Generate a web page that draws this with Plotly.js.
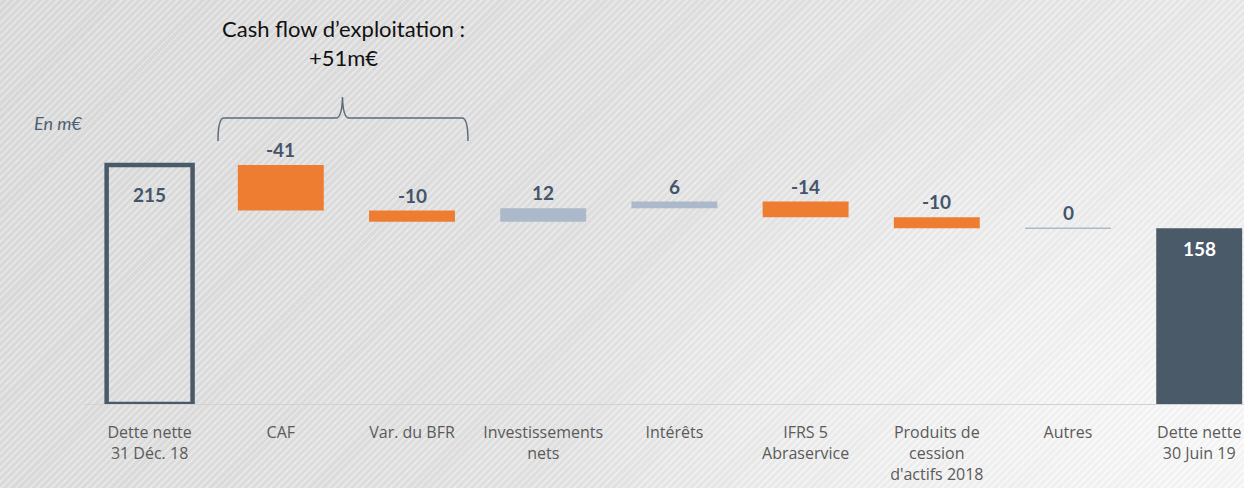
<!DOCTYPE html>
<html><head><meta charset="utf-8">
<script src="https://cdn.plot.ly/plotly-3.0.1.min.js"></script>
<style>
html,body{margin:0;padding:0;width:1244px;height:488px;overflow:hidden;}
body{
 background:
  repeating-linear-gradient(135deg, rgba(255,255,255,0.22) 0px, rgba(255,255,255,0.22) 2px, rgba(0,0,0,0.025) 2px, rgba(0,0,0,0.025) 5px),
  radial-gradient(ellipse 55% 75% at 100% 90%, #fafafa 0%, #f3f3f3 45%, rgba(232,232,232,0) 100%),
  linear-gradient(120deg, #dcdcdc 0%, #e2e2e2 45%, #e8e8e8 70%, #eeeeee 100%);
}
#chart{width:1244px;height:488px;}
</style></head><body><div id="chart"></div>
<script>
const categories = ['Dette nette<br>31 Déc. 18','CAF','Var. du BFR','Investissements<br>nets','Intérêts','IFRS 5<br>Abraservice','Produits de<br>cession<br>d\'actifs 2018','Autres','Dette nette<br>30 Juin 19'];
const values = [215, -41, -10, 12, 6, -14, -10, 0, 158];
const measures = ['total','relative','relative','relative','relative','relative','relative','relative','total'];
const valueLabels = ['215','-41','-10','12','6','-14','-10','0','158'];
const bracketedSteps = [1, 2];

const SLATE = '#4a5a69', LABEL = '#44546a', ORANGE = '#ee7d32', BLUEGREY = '#acb9ca';

// waterfall geometry from the values
let level = 0;
const bases = [], heights = [], colors = [], lineW = [], lineC = [];
values.forEach((v, i) => {
  if (measures[i] === 'total') {
    bases.push(0); heights.push(v); level = v;
    colors.push(i === 0 ? 'rgba(0,0,0,0)' : SLATE);
    lineW.push(i === 0 ? 4.5 : 0); lineC.push(SLATE);
  } else {
    const start = level, end = level + v;
    if (v === 0) { bases.push(level - 0.7); heights.push(1.4); }
    else { bases.push(Math.min(start, end)); heights.push(Math.abs(v)); }
    level = end;
    colors.push(v < 0 ? ORANGE : BLUEGREY);
    lineW.push(0); lineC.push('rgba(0,0,0,0)');
  }
});

const W = 1244, H = 488, L = 84, R = 0, T = 126, B = 84;
const pw = W - L - R, ph = H - T - B;
const px = x => (x - L) / pw, py = y => (H - B - y) / ph;

const annotations = [];
values.forEach((v, i) => {
  const isTotal = measures[i] === 'total';
  annotations.push({
    x: categories[i], y: isTotal ? v : bases[i] + heights[i], xref: 'x', yref: 'y',
    text: valueLabels[i], showarrow: false,
    yanchor: isTotal ? 'top' : 'bottom',
    yshift: isTotal ? (i === 0 ? -16 : -7) : 2,
    font: {family: 'Lato, sans-serif', size: 19, color: (isTotal && i > 0) ? '#ffffff' : LABEL, weight: 'bold'}
  });
});
const cashFlow = -bracketedSteps.reduce((s, i) => s + values[i], 0);
annotations.push({
  xref: 'paper', yref: 'paper', x: px(343), y: py(43), xanchor: 'center', yanchor: 'middle',
  text: 'Cash flow d’exploitation :<br>+' + cashFlow + 'm€', showarrow: false,
  font: {family: 'Lato, sans-serif', size: 22, color: '#111111'}
});
annotations.push({
  xref: 'paper', yref: 'paper', x: px(32), y: py(123), xanchor: 'left', yanchor: 'middle',
  text: '<i>En m€</i>', showarrow: false,
  font: {family: 'Lato, sans-serif', size: 18, color: '#4f6072'}
});

const P = (x, y) => px(x).toFixed(5) + ',' + py(y).toFixed(5);
const bracePath = 'M' + P(218,141) + ' Q' + P(218,118) + ' ' + P(224,118) + ' L' + P(336,118) +
  ' Q' + P(342,118) + ' ' + P(342.5,97) + ' Q' + P(343,118) + ' ' + P(349,118) +
  ' L' + P(462,118) + ' Q' + P(468,118) + ' ' + P(468,141);

const trace = {
  type: 'bar', x: categories, y: heights, base: bases,
  marker: {color: colors, line: {width: lineW, color: lineC}},
  hoverinfo: 'skip', cliponaxis: false
};

const layout = {
  width: W, height: H,
  margin: {l: L, r: R, t: T, b: B, pad: 0},
  paper_bgcolor: 'rgba(0,0,0,0)', plot_bgcolor: 'rgba(0,0,0,0)',
  showlegend: false, bargap: 0.345,
  xaxis: {type: 'category', range: [-0.5, -0.5 + pw / 131.2], showline: true, linecolor: '#d2d2d2', linewidth: 1,
          ticks: '', showgrid: false, zeroline: false, fixedrange: true, ticklabelstandoff: 14,
          tickfont: {family: '"Open Sans", sans-serif', size: 16, color: '#5a5a5a'}},
  yaxis: {range: [0, 250], visible: false, showgrid: false, zeroline: false, fixedrange: true},
  annotations: annotations,
  shapes: [{type: 'path', xref: 'paper', yref: 'paper', path: bracePath, line: {color: '#5b6b7b', width: 1.5}}]
};

Plotly.newPlot('chart', [trace], layout, {displayModeBar: false, staticPlot: true});
</script></body></html>
